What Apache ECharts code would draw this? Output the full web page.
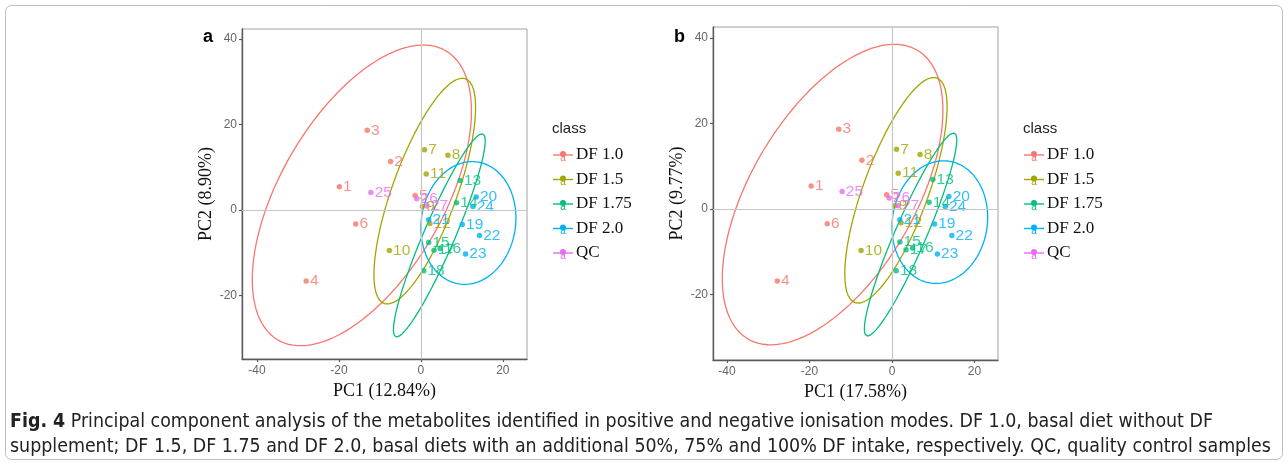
<!DOCTYPE html>
<html><head><meta charset="utf-8">
<script src="https://cdn.jsdelivr.net/npm/echarts@6/dist/echarts.min.js"></script>
<style>html,body{margin:0;padding:0;background:#fff}#c{width:1288px;height:465px}</style>
</head><body><div id="c"></div>
<script>
// ---- data ----
const classes = ['DF 1.0', 'DF 1.5', 'DF 1.75', 'DF 2.0', 'QC'];
const classColors = ['#F8766D', '#A3A500', '#00BF7D', '#00B0F6', '#E76BF3'];
const sampleIds = [[1,2,3,4,5,6],[7,8,9,10,11,12],[13,14,15,16,17,18],[19,20,21,22,23,24],[25,26,27]];

// panel a (PC1 12.84%, PC2 8.90%)
const pc1A_DF10 = [-19.9, -7.4, -13.1, -28.0, -1.4, -15.9];
const pc2A_DF10 = [5.4, 11.3, 18.6, -16.6, 3.35, -3.3];
const pc1A_DF15 = [0.9, 6.6, 0.4, -7.7, 1.3, 2.2];
const pc2A_DF15 = [14.05, 12.8, 0.8, -9.5, 8.4, -3.2];
const pc1A_DF175 = [9.6, 8.7, 1.9, 4.7, 3.2, 0.7];
const pc2A_DF175 = [6.9, 1.7, -7.6, -9.0, -9.4, -14.2];
const pc1A_DF20 = [10.1, 13.5, 1.9, 14.3, 10.9, 12.7];
const pc2A_DF20 = [-3.4, 3.0, -2.3, -6.0, -10.3, 0.8];
const pc1A_QC = [-12.2, -1.0, 1.5];
const pc2A_QC = [4.1, 2.6, 0.9];

// panel b (PC1 17.58%, PC2 9.77%)
const pc1B_DF10 = [-19.6, -7.3, -12.9, -27.8, -1.3, -15.7];
const pc2B_DF10 = [5.4, 11.4, 18.7, -16.8, 3.35, -3.4];
const pc1B_DF15 = [1.1, 6.8, 0.7, -7.5, 1.5, 2.2];
const pc2B_DF15 = [14.0, 12.8, 0.8, -9.7, 8.4, -3.2];
const pc1B_DF175 = [9.9, 9.0, 1.9, 5.0, 3.4, 1.0];
const pc2B_DF175 = [6.9, 1.6, -7.7, -9.1, -9.5, -14.4];
const pc1B_DF20 = [10.3, 13.8, 1.9, 14.5, 11.0, 12.9];
const pc2B_DF20 = [-3.5, 2.95, -2.5, -6.2, -10.5, 0.6];
const pc1B_QC = [-12.1, -0.7, 1.5];
const pc2B_QC = [4.1, 2.6, 0.8];

// 95% ellipses (centre, half-extent in x and y, correlation)
const ellCx = [-14.4, 0.95, 4.5, 11.6];
const ellCy = [3.4, 4.4, -5.95, -3.05];
const ellSx = [26.75, 12.4, 11.2, 11.6];
const ellSy = [35.15, 26.4, 23.75, 14.35];
const ellRho = [0.56, 0.74, 0.93, 0.08];

const tickValues = [-40, -20, 0, 20];
const tickValuesY = [-20, 0, 20, 40];

const panels = [
  { tag: 'a', xName: 'PC1 (12.84%)', yName: 'PC2 (8.90%)',
    xs: [pc1A_DF10, pc1A_DF15, pc1A_DF175, pc1A_DF20, pc1A_QC],
    ys: [pc2A_DF10, pc2A_DF15, pc2A_DF175, pc2A_DF20, pc2A_QC],
    grid: {left: 242, top: 29, width: 285, height: 330}, xMin: -43.66, xMax: 25.9, yMin: -34.85, yMax: 42.3, dx: 0 },
  { tag: 'b', xName: 'PC1 (17.58%)', yName: 'PC2 (9.77%)',
    xs: [pc1B_DF10, pc1B_DF15, pc1B_DF175, pc1B_DF20, pc1B_QC],
    ys: [pc2B_DF10, pc2B_DF15, pc2B_DF175, pc2B_DF20, pc2B_QC],
    grid: {left: 713, top: 27, width: 285, height: 333}, xMin: -43.4, xMax: 25.7, yMin: -35.3, yMax: 42.6, dx: 471 }
];

function ellipsePoints(k) {
  const pts = [];
  const n = 120;
  const s = Math.sqrt(1 - ellRho[k] * ellRho[k]);
  for (let i = 0; i <= n; i++) {
    const t = 2 * Math.PI * i / n;
    pts.push([ellCx[k] + ellSx[k] * Math.cos(t),
              ellCy[k] + ellSy[k] * (ellRho[k] * Math.cos(t) + s * Math.sin(t))]);
  }
  return pts;
}

const grids = [], xAxes = [], yAxes = [], series = [], graphics = [];
const axisGrey = '#5a5a5a';
panels.forEach((p, pi) => {
  grids.push(Object.assign({show: true, borderColor: '#a0a0a0', borderWidth: 1, containLabel: false}, p.grid));
  xAxes.push({
    gridIndex: pi, type: 'value', min: p.xMin, max: p.xMax,
    axisLine: {show: true, onZero: false, lineStyle: {color: axisGrey, width: 1.4}},
    axisTick: {show: true, length: 3, customValues: tickValues, lineStyle: {color: axisGrey, width: 1.2}},
    axisLabel: {customValues: tickValues, color: '#666', fontSize: 12, margin: 6, fontFamily: 'Liberation Sans'},
    splitLine: {show: false},
    name: p.xName, nameLocation: 'middle', nameGap: 13,
    nameTextStyle: {fontFamily: 'Liberation Serif', fontSize: 18, color: '#111', verticalAlign: 'top'}
  });
  yAxes.push({
    gridIndex: pi, type: 'value', min: p.yMin, max: p.yMax,
    axisLine: {show: true, onZero: false, lineStyle: {color: axisGrey, width: 1.4}},
    axisTick: {show: true, length: 3, customValues: tickValuesY, lineStyle: {color: axisGrey, width: 1.2}},
    axisLabel: {customValues: tickValuesY, color: '#666', fontSize: 12, margin: 5, fontFamily: 'Liberation Sans'},
    splitLine: {show: false},
    name: p.yName, nameLocation: 'middle', nameGap: 27, nameRotate: 90,
    nameTextStyle: {fontFamily: 'Liberation Serif', fontSize: 18, color: '#111'}
  });
  // ellipses
  for (let k = 0; k < 4; k++) {
    const s = {
      type: 'line', xAxisIndex: pi, yAxisIndex: pi, data: ellipsePoints(k),
      showSymbol: false, symbol: 'none', silent: true, smooth: false, z: 2,
      lineStyle: {color: classColors[k], width: 1.3}
    };
    if (k === 0) {
      s.markLine = {silent: true, symbol: 'none', label: {show: false}, animation: false,
        lineStyle: {color: '#c6c6c6', width: 1.2, type: 'solid'},
        data: [{xAxis: 0}, {yAxis: 0}]};
    }
    series.push(s);
  }
  // points
  for (let k = 0; k < classes.length; k++) {
    series.push({
      type: 'scatter', name: classes[k], xAxisIndex: pi, yAxisIndex: pi, z: 3,
      symbol: 'circle', symbolSize: 5.5,
      itemStyle: {color: classColors[k]},
      data: sampleIds[k].map((id, i) => ({name: String(id), value: [p.xs[k][i], p.ys[k][i]]})),
      label: {show: true, position: 'right', distance: 1, formatter: '{b}',
        color: classColors[k], fontSize: 15.5, fontFamily: 'Liberation Sans'}
    });
  }
  // panel tag
  graphics.push({type: 'text', left: 203 + p.dx, top: 28,
    style: {text: p.tag, font: 'bold 18px "Liberation Sans"', fill: '#000'}});
  // legend
  graphics.push({type: 'text', left: 552 + p.dx, top: 121,
    style: {text: 'class', font: '15px "Liberation Sans"', fill: '#222'}});
  classes.forEach((c, k) => {
    const y = 155 + k * 24.5;
    const x0 = 553 + p.dx;
    graphics.push({type: 'line', shape: {x1: x0, y1: y, x2: x0 + 20, y2: y},
      style: {stroke: classColors[k], lineWidth: 1.4}});
    graphics.push({type: 'text', x: x0 + 10, y: y + 3,
      style: {text: 'a', font: '10px "Liberation Sans"', fill: classColors[k], align: 'center', verticalAlign: 'middle'}});
    graphics.push({type: 'circle', shape: {cx: x0 + 10, cy: y - 1, r: 3},
      style: {fill: classColors[k]}});
    graphics.push({type: 'text', x: x0 + 23, y: y,
      style: {text: c, font: '17px "Liberation Serif"', fill: '#111', verticalAlign: 'middle'}});
  });
});

// frame and caption
graphics.push({type: 'rect', shape: {x: 5.5, y: 5.5, width: 1277, height: 454, r: 6},
  style: {fill: 'none', stroke: '#bdbdbd', lineWidth: 1}, z: -1});
const captionLine1 = 'Principal component analysis of the metabolites identified in positive and negative ionisation modes. DF 1.0, basal diet without DF';
const captionLine2 = 'supplement; DF 1.5, DF 1.75 and DF 2.0, basal diets with an additional 50%, 75% and 100% DF intake, respectively. QC, quality control samples';
const capFont = '"DejaVu Sans Condensed", "Liberation Sans Narrow", sans-serif';
graphics.push({type: 'text', left: 10, top: 409,
  style: {text: '{b|Fig. 4} ' + captionLine1 + '\n' + captionLine2,
    font: '19.4px ' + capFont, fill: '#222', lineHeight: 25,
    rich: {b: {font: 'bold 19.4px ' + capFont, fill: '#222', lineHeight: 25}}}});

const chart = echarts.init(document.getElementById('c'), null, {renderer: 'canvas'});
chart.setOption({
  animation: false,
  backgroundColor: '#fff',
  grid: grids, xAxis: xAxes, yAxis: yAxes, series: series, graphic: graphics
});
</script></body></html>
